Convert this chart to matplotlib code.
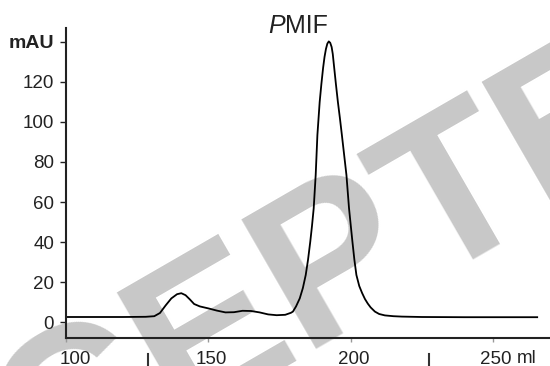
import matplotlib
matplotlib.use('Agg')
import matplotlib.pyplot as plt
from matplotlib.transforms import ScaledTranslation

plt.rcParams['font.family'] = ['Liberation Sans', 'DejaVu Sans']

# elution volume (ml) and absorbance (mAU)
volume = [100, 110, 120, 128, 131, 133, 135, 137, 139, 140.5, 142, 143.5, 145,
          147, 150, 153, 156, 159, 162, 165, 168, 171, 174, 177, 179, 179.7,
          180.8, 182.1, 183.2, 184.2, 185, 185.8, 186.4, 187, 187.7, 188.3,
          189.1, 189.7, 190.3, 190.8, 191.3, 191.8, 192.3, 192.8, 193.3,
          193.7, 194.1, 194.8, 195.5, 196.2, 196.9, 197.7, 198.5, 199.4, 200,
          200.6, 201.3, 202, 203, 204, 205, 206, 207, 208.5, 210, 212, 215,
          218, 225, 240, 265.5]
absorbance = [2.5, 2.5, 2.5, 2.6, 2.9, 4.5, 8.3, 11.8, 13.9, 14.4, 13.4, 11.3,
              9.0, 7.8, 6.8, 5.7, 4.8, 4.9, 5.6, 5.5, 4.8, 3.8, 3.4, 3.6, 4.6,
              5.2, 7.8, 11.8, 17.0, 23.5, 31.0, 40.2, 48.0, 56.8, 73.5, 93.5,
              110.0, 119.0, 127.0, 132.5, 136.5, 139.2, 140.3, 139.6, 137.5,
              134.0, 128.5, 119.0, 110.0, 102.0, 93.5, 83.5, 73.5, 57.0, 48.5,
              40.2, 31.0, 23.5, 18.0, 14.5, 11.5, 9.2, 7.3, 5.2, 4.0, 3.3, 2.9,
              2.7, 2.5, 2.4, 2.4]

yticks = [0, 20, 40, 60, 80, 100, 120, 140]
ytick_labels = ['0', '20', '40', '60', '80', '100', '120', 'mAU']
xticks = [100, 150, 200, 250]
xtick_labels = ['100', '150', '200', '250']
fraction_marks = [128.8, 227.6]

fig = plt.figure(figsize=(5.5, 3.66), dpi=100)
ax = fig.add_axes([0.12, 0.0765, 0.88, 0.847])

ax.plot(volume, absorbance, color='black', lw=1.3, zorder=2)

ax.set_xlim(100, 270)
ax.set_ylim(-8, 147)
ax.spines['top'].set_visible(False)
ax.spines['right'].set_visible(False)
ax.spines['left'].set_linewidth(1.5)
ax.spines['bottom'].set_linewidth(1.5)
ax.spines['left'].set_color('#222222')
ax.spines['bottom'].set_color('#222222')

ax.set_yticks(yticks)
ax.set_yticklabels(ytick_labels)
ax.tick_params(axis='y', direction='out', length=4.5, width=1, pad=4,
               labelsize=13.5, colors='#222222')
mau = ax.get_yticklabels()[-1]
mau.set_fontweight('bold')
mau.set_fontsize(14)

ax.set_xticks(xticks)
ax.set_xticklabels(xtick_labels)
ax.tick_params(axis='x', direction='out', length=3, width=1, pad=6,
               labelsize=13.5, color='#999999', labelcolor='#222222')
# labels sit a little right of their ticks, the first one more
for lab, dx in zip(ax.get_xticklabels(), [9, 3, 3, 3]):
    lab.set_transform(lab.get_transform() +
                      ScaledTranslation(dx / 100, 0, fig.dpi_scale_trans))

fig.text(517 / 550, 3 / 366, 'ml', fontsize=13.5, color='#222222',
         ha='left', va='baseline')

# fraction markers under the axis
for fm in fraction_marks:
    ax.plot([fm, fm], [-0.052, -0.1], color='#333333', lw=1.5,
            transform=ax.get_xaxis_transform(), clip_on=False)

# title: italic P + MIF
fig.text(268 / 550, 1 - 33 / 366, 'P', fontsize=18, style='italic',
         color='#222222', va='baseline')
fig.text(285 / 550, 1 - 33 / 366, 'MIF', fontsize=18, color='#222222',
         va='baseline')

# watermark
ax.text(260 / 550, 1 - 313 / 366, 'ACCEPTED', transform=fig.transFigure,
        rotation=30, rotation_mode='anchor', ha='center', va='center',
        fontsize=156, fontweight='bold', color='#c8c8c8', clip_on=False,
        zorder=0.5)

fig.savefig('out.png', dpi=100)
